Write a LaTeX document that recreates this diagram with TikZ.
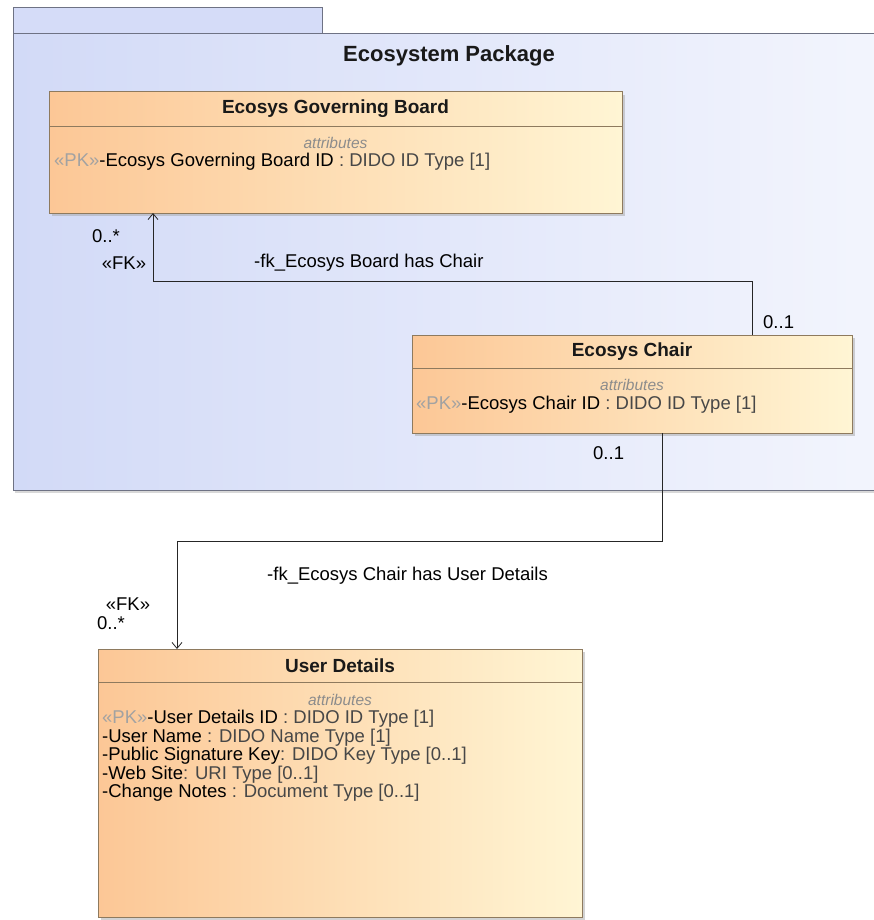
\documentclass[tikz,border=0pt]{standalone}
\usepackage{fontspec}
\setmainfont{Liberation Sans}
\usetikzlibrary{arrows.meta,shadows}
\definecolor{pkgborder}{HTML}{6E7284}
\definecolor{pkgleft}{HTML}{D2DAF7}
\definecolor{pkgright}{HTML}{F3F5FD}
\definecolor{tabfill}{HTML}{D5DCF8}
\definecolor{clsborder}{HTML}{8E7A5E}
\definecolor{clsleft}{HTML}{FCC796}
\definecolor{clsright}{HTML}{FFF5D4}
\definecolor{pkgrey}{HTML}{A2A2A2}
\definecolor{typegrey}{HTML}{474747}
\definecolor{attrgrey}{HTML}{8C8C8C}
\begin{document}
\begin{tikzpicture}[x=1pt,y=-1pt,
  pkgbody/.style={draw=pkgborder, line width=1pt, left color=pkgleft, right color=pkgright, inner sep=0pt, outer sep=0pt,
    drop shadow={shadow xshift=2pt, shadow yshift=-3pt, fill=black!30}},
  pkgtab/.style={draw=pkgborder, line width=1pt, fill=tabfill, inner sep=0pt, outer sep=0pt},
  classbox/.style={draw=clsborder, line width=1pt, left color=clsleft, right color=clsright, inner sep=0pt, outer sep=0pt,
    drop shadow={shadow xshift=3pt, shadow yshift=-3pt, fill=black!35}},
  divider/.style={draw=clsborder, line width=1pt},
  txt/.style={font=\fontsize{18.5}{19}\selectfont, inner sep=0pt, text=black},
  hdr/.style={font=\fontsize{19}{20}\bfseries\selectfont, inner sep=0pt, text=black!90},
  ttl/.style={font=\fontsize{22}{24}\bfseries\selectfont, inner sep=0pt, text=black!90},
  attr/.style={font=\fontsize{15.5}{16}\itshape\selectfont, inner sep=0pt, text=attrgrey},
  line/.style={txt, anchor=west},
  assoc/.style={draw=black!85, line width=0.8pt, -{Straight Barb[length=6pt,width=10pt]}},
  plain/.style={draw=black!85, line width=0.8pt}
]
\useasboundingbox (0,0) rectangle (874,920);
\fill[white] (0,0) rectangle (874,920);
\clip (0,0) rectangle (874,920);

% package
\node[pkgtab, minimum width=309pt, minimum height=26pt] (tab) at (167.5,21) {};
\node[pkgbody, minimum width=872pt, minimum height=456pt] (pkg) at (449,262) {};
\node[ttl] (pkgtitle) at (449,56) {Ecosystem Package};

% Ecosys Governing Board
\node[classbox, minimum width=573pt, minimum height=121pt] (gb) at (335.5,152.5) {};
\draw[divider] ([yshift=-35pt]gb.north west) -- ([yshift=-35pt]gb.north east);
\node[hdr] (gbh) at (335.5,109) {Ecosys Governing Board};
\node[attr] (gba) at (335.5,143) {attributes};
\node[line] (gb1) at (54,162) {\textcolor{pkgrey}{«PK»}-Ecosys Governing Board ID \textcolor{typegrey}{: DIDO ID Type [1]}};

% Ecosys Chair
\node[classbox, minimum width=440pt, minimum height=98pt] (ch) at (632,384) {};
\draw[divider] ([yshift=-33pt]ch.north west) -- ([yshift=-33pt]ch.north east);
\node[hdr] (chh) at (632,352) {Ecosys Chair};
\node[attr] (cha) at (632,385) {attributes};
\node[line] (ch1) at (416,405) {\textcolor{pkgrey}{«PK»}-Ecosys Chair ID \textcolor{typegrey}{: DIDO ID Type [1]}};

% User Details
\node[classbox, minimum width=484pt, minimum height=268pt] (ud) at (340,783) {};
\draw[divider] ([yshift=-33pt]ud.north west) -- ([yshift=-33pt]ud.north east);
\node[hdr] (udh) at (340,666) {User Details};
\node[attr] (uda) at (340,700) {attributes};
\node[line] (ud1) at (102,719) {\textcolor{pkgrey}{«PK»}-User Details ID \textcolor{typegrey}{: DIDO ID Type [1]}};
\node[line] (ud2) at (102,737.5) {-User Name \textcolor{typegrey}{: DIDO Name Type [1]}};
\node[line] (ud3) at (102,756) {-Public Signature Key\textcolor{typegrey}{: DIDO Key Type [0..1]}};
\node[line] (ud4) at (102,774.5) {-Web Site\textcolor{typegrey}{: URI Type [0..1]}};
\node[line] (ud5) at (102,793) {-Change Notes \textcolor{typegrey}{: Document Type [0..1]}};

% connectors
\coordinate (k1) at (0,281);
\coordinate (k2) at (0,541);
\draw[assoc] ([xshift=120pt]ch.north) -- ([xshift=120pt]ch.north |- k1) -| ([xshift=-182.5pt]gb.south);
\draw[assoc] ([xshift=30pt]ch.south) -- ([xshift=30pt]ch.south |- k2) -| ([xshift=-163pt]ud.north);

% connector labels
\node[txt] (m1) at (106,236) {0..*};
\node[txt] (fk1) at (124,263) {«FK»};
\node[txt, anchor=west] (l1) at (254,263) {-fk\_Ecosys Board has Chair};
\node[txt, anchor=west] (m2) at (763,322) {0..1};
\node[txt, anchor=west] (m3) at (593,453) {0..1};
\node[txt, anchor=west] (l2) at (267,576) {-fk\_Ecosys Chair has User Details};
\node[txt] (fk2) at (128,604) {«FK»};
\node[txt] (m4) at (111,623) {0..*};
\end{tikzpicture}
\end{document}
